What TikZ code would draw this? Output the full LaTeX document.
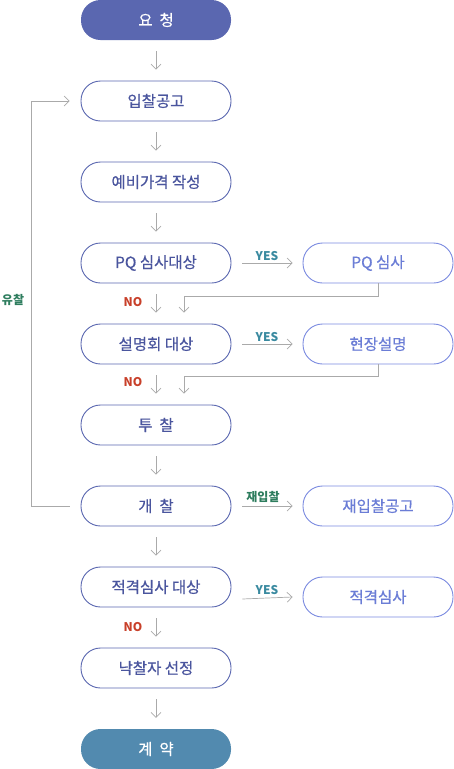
\documentclass[tikz,border=0pt]{standalone}
\usepackage{fontspec}
\setmainfont{Noto Sans CJK KR}
\newfontfamily\boxfont{Noto Sans CJK KR}[FakeBold=0.5]
\usetikzlibrary{arrows.meta}
\definecolor{navy}{HTML}{5A67B0}
\definecolor{navytext}{HTML}{4A559E}
\definecolor{lightb}{HTML}{7A8AE0}
\definecolor{lighttext}{HTML}{6B7DD6}
\definecolor{steel}{HTML}{528AAF}
\definecolor{arr}{HTML}{AAAAAA}
\definecolor{yescol}{HTML}{3A8AA0}
\definecolor{nocol}{HTML}{C8402A}
\definecolor{greencol}{HTML}{2E7D5E}
\tikzset{
  x=1pt,y=1pt,
  basebox/.style={rounded corners=19.5pt, minimum width=150pt, minimum height=40pt, inner sep=0pt, font=\boxfont\fontsize{15.5}{17}\selectfont},
  leftbox/.style={basebox, draw=navy, line width=0.9pt, fill=white, text=navytext},
  rightbox/.style={basebox, draw=lightb, line width=0.9pt, fill=white, text=lighttext},
  filledbox/.style={basebox, fill=#1, text=white},
  flow/.style={draw=arr, line width=0.7pt, -{Straight Barb[length=5pt,width=10pt,line width=0.7pt]}},
  plainline/.style={draw=arr, line width=0.7pt},
  yeslbl/.style={text=yescol, font=\bfseries\fontsize{12}{13}\selectfont, inner sep=0pt},
  nolbl/.style={text=nocol, font=\bfseries\fontsize{12}{13}\selectfont, inner sep=0pt},
  grnlbl/.style={text=greencol, font=\bfseries\fontsize{12}{13}\selectfont, inner sep=0pt},
}
\begin{document}
\begin{tikzpicture}
\useasboundingbox (0,0) rectangle (454,-769);
% left column
\node[filledbox=navy] (req) at (156,-20) {요\ \ 청};
\node[leftbox] (bid) at (156,-101) {입찰공고};
\node[leftbox] (price) at (156,-182) {예비가격 작성};
\node[leftbox] (pqq) at (156,-263) {PQ 심사대상};
\node[leftbox] (brief) at (156,-344) {설명회 대상};
\node[leftbox] (tender) at (156,-425) {투\ \ 찰};
\node[leftbox] (open) at (156,-506) {개\ \ 찰};
\node[leftbox] (qualq) at (156,-587) {적격심사 대상};
\node[leftbox] (win) at (156,-668) {낙찰자 선정};
\node[filledbox=steel] (contract) at (156,-749) {계\ \ 약};
% right column
\node[rightbox] (pq) at (378,-263) {PQ 심사};
\node[rightbox] (site) at (378,-344) {현장설명};
\node[rightbox] (rebid) at (378,-506) {재입찰공고};
\node[rightbox] (qual) at (378,-597) {적격심사};
% vertical arrows
\foreach \a/\b in {req/bid, bid/price, price/pqq, pqq/brief, brief/tender, tender/open, open/qualq, qualq/win, win/contract}{
  \draw[flow] ([yshift=-11pt]\a.south) -- ([yshift=11pt]\b.north);
}
% horizontal arrows
\draw[flow] ([xshift=11pt]pqq.east) -- ([xshift=-10pt]pq.west);
\draw[flow] ([xshift=11pt]brief.east) -- ([xshift=-10pt]site.west);
\draw[flow] ([xshift=11pt]open.east) -- ([xshift=-10pt]rebid.west);
\draw[flow] ([xshift=11pt,yshift=-12pt]qualq.east) -- ([xshift=-10pt]qual.west);
% return lines
\coordinate (r1) at (184,-296);
\coordinate (r2) at (184,-376);
\draw[flow] (pq.south) |- (r1) -- ([yshift=11pt]r1 |- brief.north);
\draw[flow] (site.south) |- (r2) -- ([yshift=11pt]r2 |- tender.north);
% loop
\coordinate (l1) at (31,-506);
\coordinate (l2) at (31,-101);
\draw[flow] ([xshift=-11pt]open.west) -- (l1) -- (l2) -- ([xshift=-11pt]bid.west);
% labels
\node[yeslbl] at (267,-256) {YES};
\node[yeslbl] at (267,-337) {YES};
\node[yeslbl] at (267,-590) {YES};
\node[grnlbl] at (263,-497) {재입찰};
\node[nolbl] at (133,-302) {NO};
\node[nolbl] at (133,-382) {NO};
\node[nolbl] at (133,-627) {NO};
\node[grnlbl] at (13,-300) {유찰};
\end{tikzpicture}
\end{document}
